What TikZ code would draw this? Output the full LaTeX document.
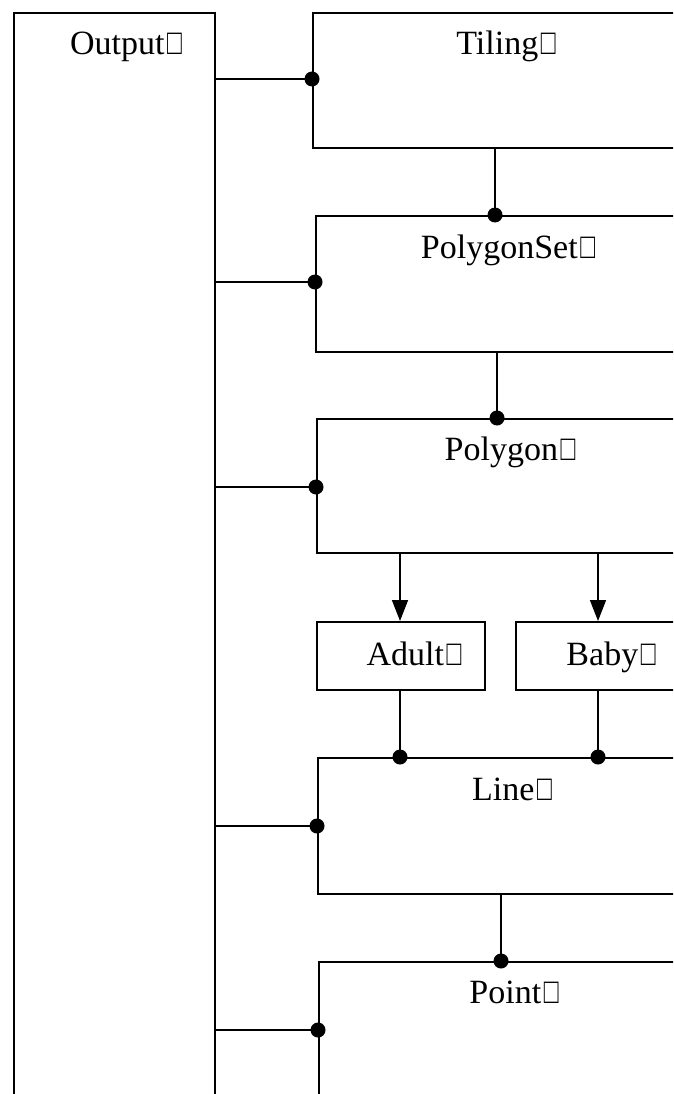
\documentclass[tikz,border=0pt]{standalone}
\usepackage{fontspec}
\usepackage{graphicx}
\setmainfont{Liberation Serif}
\usetikzlibrary{calc,arrows.meta}
% narrow placeholder box that trails every label
\newcommand{\tailbox}{\kern2.5pt\scalebox{0.72}[1.05]{□}}
\begin{document}
\begin{tikzpicture}[x=1pt,y=-1pt,line width=1.6pt,
  blk/.style={draw,rectangle,anchor=north west,inner sep=0pt},
  lbl/.style={anchor=base,inner sep=0pt,font=\fontsize{34}{36}\selectfont},
  joint/.style={fill=black,circle,inner sep=0pt,minimum size=15pt},
  link/.style={line width=1.6pt},
  flow/.style={line width=1.6pt,-{Triangle[length=21pt,width=16pt]}}]
\useasboundingbox (0,0) rectangle (673,1094);
\clip (0,0) rectangle (673,1094);

% module boxes (open towards the right and bottom edges)
\node[blk,minimum width=201pt,minimum height=1200pt] (output) at (13,12) {};
\node[blk,minimum width=400pt,minimum height=135pt] (tiling) at (312,12) {};
\node[blk,minimum width=400pt,minimum height=136pt] (polyset) at (315,215) {};
\node[blk,minimum width=400pt,minimum height=134pt] (polygon) at (316,418) {};
\node[blk,minimum width=168pt,minimum height=68pt] (adult) at (316,621) {};
\node[blk,minimum width=200pt,minimum height=68pt] (baby) at (515,621) {};
\node[blk,minimum width=400pt,minimum height=136pt] (line) at (317,757) {};
\node[blk,minimum width=400pt,minimum height=200pt] (point) at (318,961) {};

% labels
\node[lbl] (outputtxt) at (126,55) {Output\tailbox};
\node[lbl] (tilingtxt) at (506,55) {Tiling\tailbox};
\node[lbl] (polysettxt) at (508,258) {PolygonSet\tailbox};
\node[lbl] (polygontxt) at (510,460) {Polygon\tailbox};
\node[lbl] (adulttxt) at (414,665) {Adult\tailbox};
\node[lbl] (babytxt) at (611,665) {Baby\tailbox};
\node[lbl] (linetxt) at (512,800) {Line\tailbox};
\node[lbl] (pointtxt) at (514,1003) {Point\tailbox};

% joints on the left edges, fed from the output column
\coordinate (jt) at ($(tiling.north west)+(0,67)$);
\coordinate (jps) at ($(polyset.north west)+(0,67)$);
\coordinate (jpg) at ($(polygon.north west)+(0,69)$);
\coordinate (jl) at ($(line.north west)+(0,69)$);
\coordinate (jp) at ($(point.north west)+(0,69)$);
\foreach \j in {jt,jps,jpg,jl,jp}{
  \draw[link] (output.east |- \j) -- (\j);
  \node[joint] at (\j) {};
}

% joints on the top edges
\coordinate (tps) at (495,215);
\coordinate (tpg) at (497,418);
\coordinate (tla) at (400,757);
\coordinate (tlb) at (598,757);
\coordinate (tpt) at (501,961);
\draw[link] (tiling.south -| tps) -- (tps);
\node[joint] at (tps) {};
\draw[link] (polyset.south -| tpg) -- (tpg);
\node[joint] at (tpg) {};
\draw[link] (adult.south -| tla) -- (tla);
\node[joint] at (tla) {};
\draw[link] (baby.south -| tlb) -- (tlb);
\node[joint] at (tlb) {};
\draw[link] (line.south -| tpt) -- (tpt);
\node[joint] at (tpt) {};

% arrows from Polygon to Adult and Baby
\draw[flow] (polygon.south -| tla) -- (adult.north -| tla);
\draw[flow] (polygon.south -| tlb) -- (baby.north -| tlb);
\end{tikzpicture}
\end{document}
